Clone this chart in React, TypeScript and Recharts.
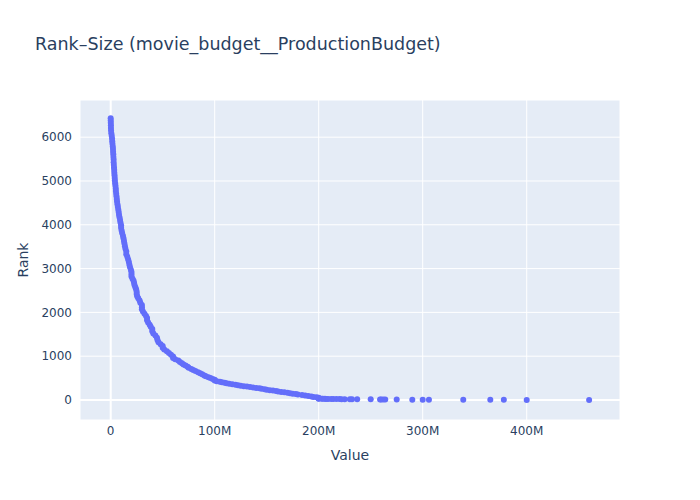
import React from 'react';
import { ScatterChart, Scatter, XAxis, YAxis, CartesianGrid, ReferenceLine, Label } from 'recharts';

// production budgets in millions of dollars, with their rank (1 = largest)
const tailPoints: [number, number][] = [
    [460, 1], [400, 2], [378, 3], [365, 4], [339, 5], [306, 6], [300, 7], [290, 8],
    [275, 9], [264, 10], [262, 11], [260, 12], [259, 13], [250, 14], [237, 15], [232, 16],
    [230, 17], [225, 18], [222, 19], [220, 20], [217, 21], [214, 22], [212, 23], [209, 24],
    [207, 25], [206, 26], [204, 27], [203, 28], [200, 30], [200, 35], [200, 40], [200, 50],
    [198, 60], [195, 70], [193, 80],
];

const shoulderPoints: [number, number][] = [
    [190, 90], [187, 105], [184, 115], [180, 125], [178, 135], [175, 145], [172.5, 155],
    [170, 165], [167, 175], [164, 185], [161, 195], [159, 205], [156, 215], [153, 225],
    [150, 235], [148, 245], [145, 255], [143, 266], [140, 275], [137, 285], [134, 295],
    [131, 305], [128, 316], [125, 327], [122.5, 338], [120, 350], [117, 360], [114, 372],
    [111.5, 384], [109.5, 395], [107, 406], [105, 418], [102, 430], [100, 445], [100, 460],
    [98, 480], [96, 500], [94, 520], [91.5, 540], [90, 560], [88, 585], [86, 610],
    [84, 635], [81.5, 660], [79.4, 685], [77.5, 710], [75, 735], [74, 760], [72, 785],
    [70, 810], [68.5, 840], [66.6, 870], [65, 900], [62, 930], [60, 960], [60, 990],
    [58, 1030], [56, 1070], [54, 1110], [51.5, 1150], [50, 1190], [50, 1230], [48, 1270],
    [46, 1320], [45, 1370], [44.5, 1420], [43, 1470], [41, 1520], [40, 1570], [40, 1620],
    [38.5, 1670], [37.5, 1720], [36, 1770], [35, 1820], [35, 1870], [34, 1920], [32.5, 1970],
    [31, 2020], [30, 2070], [30, 2120], [30, 2170], [28.5, 2220], [27.8, 2270], [26.5, 2320],
    [25.5, 2370], [25, 2420], [25, 2470], [24.5, 2520], [23.8, 2570], [23, 2620], [22.5, 2670],
    [22, 2720], [21, 2770], [20, 2820], [20, 2870], [20, 2920], [19.5, 2970],
];

const steepPoints: [number, number][] = [
    [18.6, 3030], [18, 3090], [17.5, 3150], [16.8, 3210], [16, 3270], [15, 3330], [15, 3390],
    [14.2, 3450], [13.7, 3510], [13.2, 3570], [12.8, 3630], [12.3, 3690], [11.8, 3750],
    [11, 3810], [10.5, 3870], [10, 3930], [10, 3990], [9.4, 4050], [9, 4110], [8.5, 4170],
    [8, 4230], [7.7, 4290], [7.3, 4350], [6.9, 4410], [6.5, 4470], [6.1, 4530], [5.9, 4590],
    [5.6, 4650], [5.3, 4710], [5, 4770], [4.9, 4830], [4.6, 4890], [4.3, 4950], [4, 5010],
    [3.9, 5070], [3.7, 5130], [3.5, 5190], [3.4, 5250], [3.2, 5310], [3, 5370], [2.8, 5430],
    [2.8, 5490], [2.6, 5550], [2.5, 5610], [2.3, 5670], [2.2, 5730], [2, 5790], [1.7, 5850],
    [1.5, 5910], [1.3, 5970], [1, 6030], [0.6, 6090], [0.35, 6150], [0.25, 6210], [0.2, 6270],
    [0.1, 6330], [0.05, 6380], [0, 6431],
];

const xTicks = [0, 100, 200, 300, 400];
const yTicks = [0, 1000, 2000, 3000, 4000, 5000, 6000];

const data = [...tailPoints, ...shoulderPoints, ...steepPoints].map(([value, rank]) => ({ value, rank }));

const fontColor = '#2a3f5f';
const font = '"DejaVu Sans", Verdana, sans-serif';

const Dot = (props: any) => <circle cx={props.cx} cy={props.cy} r={3} fill="#636efa" />;

export default function App() {
    return (
        <div style={{ position: 'absolute', left: 0, top: 0, width: 700, height: 500, background: '#fff', fontFamily: font }}>
            <div style={{ position: 'absolute', left: 35, top: 34, fontSize: 17.5, color: fontColor, whiteSpace: 'nowrap' }}>
                Rank–Size (movie_budget__ProductionBudget)
            </div>
            <ScatterChart width={700} height={500} margin={{ top: 100, right: 80, bottom: 0, left: 0 }}>
                <CartesianGrid fill="#E5ECF6" stroke="#ffffff" strokeWidth={1} />
                <XAxis
                    type="number"
                    dataKey="value"
                    domain={[-29.5, 489.7]}
                    ticks={xTicks}
                    allowDataOverflow
                    height={80}
                    axisLine={false}
                    tickLine={false}
                    tickMargin={0}
                    tick={{ fontSize: 12, fill: fontColor, fontFamily: font }}
                    tickFormatter={(v: number) => (v === 0 ? '0' : `${v}M`)}
                >
                    <Label value="Value" position="insideBottom" offset={40} style={{ fontSize: 14, fill: fontColor, fontFamily: font }} />
                </XAxis>
                <YAxis
                    type="number"
                    dataKey="rank"
                    domain={[-457, 6849]}
                    ticks={yTicks}
                    allowDataOverflow
                    width={80}
                    axisLine={false}
                    tickLine={false}
                    tick={{ fontSize: 12, fill: fontColor, fontFamily: font }}
                >
                    <Label value="Rank" angle={-90} position="insideLeft" offset={23} style={{ fontSize: 14, fill: fontColor, fontFamily: font, textAnchor: 'middle' }} />
                </YAxis>
                <ReferenceLine x={0} stroke="#ffffff" strokeWidth={2} />
                <ReferenceLine y={0} stroke="#ffffff" strokeWidth={2} />
                <Scatter data={data} shape={Dot} isAnimationActive={false} />
            </ScatterChart>
        </div>
    );
}
